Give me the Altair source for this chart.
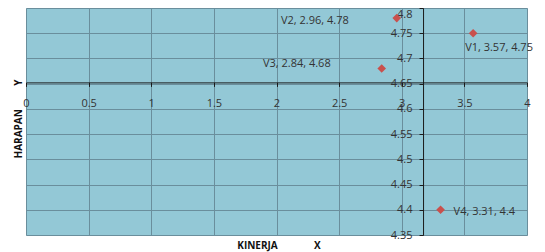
import altair as alt
import pandas as pd

# ---- data ----
labels = ["V1", "V2", "V3", "V4"]
kinerja = [3.57, 2.96, 2.84, 3.31]   # X
harapan = [4.75, 4.78, 4.68, 4.40]   # Y
x_ticks = [0, 0.5, 1, 1.5, 2, 2.5, 3, 3.5, 4]
y_ticks = [4.35, 4.4, 4.45, 4.5, 4.55, 4.6, 4.65, 4.7, 4.75, 4.8]

df = pd.DataFrame({"label": labels, "x": kinerja, "y": harapan})
df["text"] = [f"{l}, {x}, {y}" for l, x, y in zip(labels, kinerja, harapan)]

W, H = 501, 227
xmin, xmax = x_ticks[0], x_ticks[-1]
ymin, ymax = y_ticks[0], y_ticks[-1]
x_cross = sum(kinerja) / len(kinerja)
y_cross = sum(harapan) / len(harapan)
off_xaxis = -H * (y_cross - ymin) / (ymax - ymin)
off_yaxis = -W * (x_cross - xmin) / (xmax - xmin)

xs = alt.Scale(domain=[xmin, xmax], nice=False, zero=False)
ys = alt.Scale(domain=[ymin, ymax], nice=False, zero=False)

NB = "\u00a0"
FONT = "Open Sans"
GRID = "#6a8e9c"

base = alt.Chart(df)

# gridlines only (placed on top/right so they don't stack with the crossing axes)
grid_layer = base.mark_point(opacity=0).encode(
    x=alt.X("x:Q", scale=xs, axis=alt.Axis(
        orient="top", values=x_ticks, grid=True, gridColor=GRID, gridOpacity=1,
        gridWidth=1, labels=False, ticks=False, domain=False, title=None)),
    y=alt.Y("y:Q", scale=ys, axis=alt.Axis(
        orient="right", values=y_ticks, grid=True, gridColor=GRID, gridOpacity=1,
        gridWidth=1, labels=False, ticks=False, domain=False, title=None)),
)

# crossing axes at the means + points
point_layer = base.mark_point(shape="diamond", filled=True, size=75,
                              color="#c9504d", opacity=1).encode(
    x=alt.X("x:Q", scale=xs, axis=alt.Axis(
        orient="bottom", values=x_ticks, grid=False, domain=True,
        domainColor="#1a1a1a", domainWidth=1, ticks=True, tickColor="#1a1a1a",
        tickSize=4, labelFont=FONT, labelFontSize=11, labelColor="#333333",
        labelPadding=11, labelFlush=False, labelOverlap=False,
        offset=off_xaxis, format="~g",
        title="KINERJA" + NB * 14 + "X", titleFont=FONT, titleFontSize=10,
        titleFontWeight="bold", titleColor="#111111",
        titleX=W / 2 + 2, titleY=-off_xaxis + 5, titleBaseline="top",
        titleAlign="center")),
    y=alt.Y("y:Q", scale=ys, axis=alt.Axis(
        orient="left", values=y_ticks, grid=False, domain=True,
        domainColor="#1a1a1a", domainWidth=1, ticks=True, tickColor="#1a1a1a",
        tickSize=4, labelFont=FONT, labelFontSize=11, labelColor="#333333",
        labelPadding=7, labelOverlap=False,
        labelBaseline={"condition": {"test": "datum.value >= 4.79", "value": "top"},
                       "value": "middle"},
        offset=off_yaxis, format="~g",
        title="HARAPAN" + NB * 9 + "Y", titleFont=FONT, titleFontSize=10,
        titleFontWeight="bold", titleColor="#111111",
        titleX=off_yaxis - 3, titleY=H / 2 - 3, titleBaseline="bottom",
        titleAngle=270, titleAlign="center")),
)


def label_layer(name, align, dx, dy):
    return base.transform_filter(alt.datum.label == name).mark_text(
        align=align, baseline="middle", dx=dx, dy=dy, font=FONT,
        fontSize=11, color="#333333").encode(
        x=alt.X("x:Q", scale=xs, axis=None),
        y=alt.Y("y:Q", scale=ys, axis=None),
        text="text:N")


chart = alt.layer(
    grid_layer,
    point_layer,
    label_layer("V1", "left", -8, 15),
    label_layer("V2", "right", -48, 3),
    label_layer("V3", "right", -51, -5),
    label_layer("V4", "left", 13, 2),
).resolve_axis(x="independent", y="independent").properties(
    width=W, height=H,
    autosize=alt.AutoSizeParams(type="none"),
    padding={"left": 18, "top": 0, "right": 10, "bottom": 17},
).configure_view(fill="#93c8d6", stroke="#bcd3da", strokeWidth=1)

chart.save("out.html", embed_options={"renderer": "svg", "actions": False})
